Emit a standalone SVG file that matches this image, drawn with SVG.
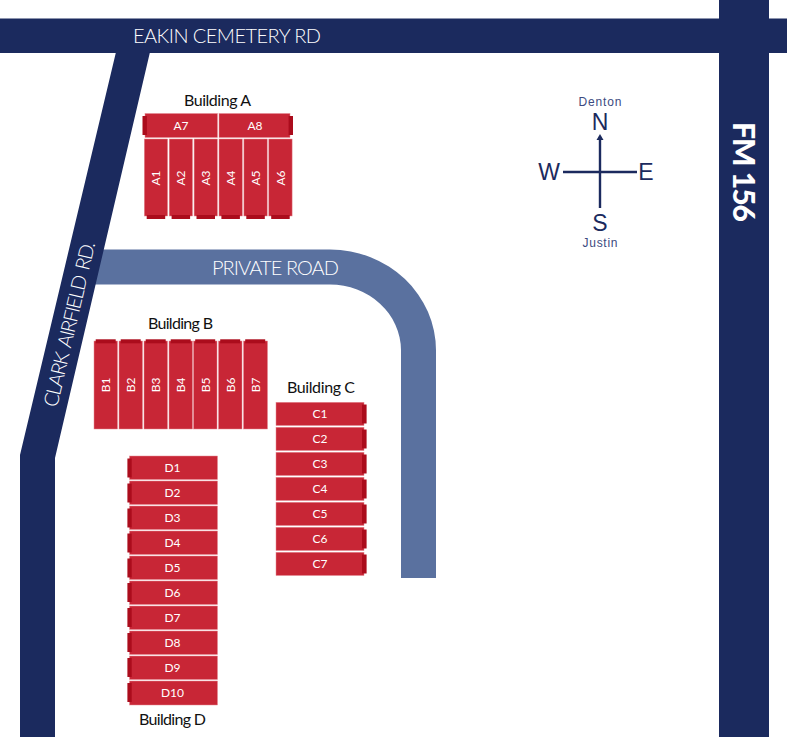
<svg xmlns="http://www.w3.org/2000/svg" width="787" height="737" viewBox="0 0 787 737">
<style>
.road{fill:#1b2a5e}
.priv{fill:#5a719f}
.u{fill:#c82636;stroke:#e58a93;stroke-width:.5}
.d{fill:#ab0c1c}
text{font-family:"Lato","Liberation Sans",sans-serif}
.rl{fill:#fff;font-size:20px;font-weight:300}
.bl{fill:#111;font-size:16px;text-anchor:middle}
.ul{fill:#fff;font-size:12px;text-anchor:middle}
.cp{fill:#1b2a5e;font-size:23px;text-anchor:middle;font-family:"Liberation Sans",sans-serif}
.ct{fill:#3c4a80;font-size:12px;text-anchor:middle;font-family:"Liberation Sans",sans-serif}
.cl{stroke:#1b2a5e;stroke-width:2.4;fill:none}
</style>
<g id="roads">
<path id="private-road" class="priv" d="M80 249.5H330A106 101 0 0 1 436 350.5V578H401V350A71 66 0 0 0 330 284.5H80Z"/>
<rect id="eakin-road" class="road" x="0" y="18.5" width="787" height="34.5"/>
<rect id="fm156" class="road" x="719" y="0" width="50" height="737"/>
<path id="clark-road" class="road" d="M116 52H150L55 458V737H20V455Z"/>
<text class="rl" x="133" y="43" textLength="188">EAKIN CEMETERY RD</text>
<text class="rl" x="212" y="275" textLength="127">PRIVATE ROAD</text>
<text class="rl" transform="translate(57 408) rotate(-76.9)" textLength="169" word-spacing="3">CLARK AIRFIELD RD.</text>
<text transform="translate(733 122) rotate(90)" fill="#fff" font-size="30" font-weight="900" textLength="100">FM 156</text>
</g>
<g id="building-a">
<text class="bl" x="217.5" y="106" textLength="67">Building A</text>
<g id="A7"><rect class="u" x="145" y="113.5" width="72.5" height="24"/><rect class="d" x="142.5" y="116" width="4.4" height="19"/><text class="ul" x="181" y="130">A7</text></g>
<g id="A8"><rect class="u" x="219" y="113.5" width="71" height="24"/><rect class="d" x="288.6" y="116" width="4.4" height="19"/><text class="ul" x="255" y="130">A8</text></g>
<g id="A1"><rect class="u" x="144.3" y="139" width="23.3" height="77"/><rect class="d" x="146.7" y="215" width="18.5" height="4"/><text class="ul" transform="translate(160 178) rotate(-90)">A1</text></g>
<g id="A2"><rect class="u" x="169.2" y="139" width="23.3" height="77"/><rect class="d" x="171.6" y="215" width="18.5" height="4"/><text class="ul" transform="translate(185 178) rotate(-90)">A2</text></g>
<g id="A3"><rect class="u" x="194.1" y="139" width="23.3" height="77"/><rect class="d" x="196.5" y="215" width="18.5" height="4"/><text class="ul" transform="translate(210 178) rotate(-90)">A3</text></g>
<g id="A4"><rect class="u" x="219" y="139" width="23.3" height="77"/><rect class="d" x="221.4" y="215" width="18.5" height="4"/><text class="ul" transform="translate(235 178) rotate(-90)">A4</text></g>
<g id="A5"><rect class="u" x="243.9" y="139" width="23.3" height="77"/><rect class="d" x="246.3" y="215" width="18.5" height="4"/><text class="ul" transform="translate(260 178) rotate(-90)">A5</text></g>
<g id="A6"><rect class="u" x="268.8" y="139" width="23.3" height="77"/><rect class="d" x="271.2" y="215" width="18.5" height="4"/><text class="ul" transform="translate(285 178) rotate(-90)">A6</text></g>
</g>
<g id="building-b">
<text class="bl" x="180.5" y="329" textLength="65">Building B</text>
<g id="B1"><rect class="u" x="94" y="341" width="23.5" height="88"/><rect class="d" x="95.7" y="339.3" width="20" height="4"/><text class="ul" transform="translate(110 385) rotate(-90)">B1</text></g>
<g id="B2"><rect class="u" x="119" y="341" width="23.5" height="88"/><rect class="d" x="120.7" y="339.3" width="20" height="4"/><text class="ul" transform="translate(135 385) rotate(-90)">B2</text></g>
<g id="B3"><rect class="u" x="144" y="341" width="23.5" height="88"/><rect class="d" x="145.7" y="339.3" width="20" height="4"/><text class="ul" transform="translate(160 385) rotate(-90)">B3</text></g>
<g id="B4"><rect class="u" x="169" y="341" width="23.5" height="88"/><rect class="d" x="170.7" y="339.3" width="20" height="4"/><text class="ul" transform="translate(185 385) rotate(-90)">B4</text></g>
<g id="B5"><rect class="u" x="193.5" y="341" width="23.5" height="88"/><rect class="d" x="195.2" y="339.3" width="20" height="4"/><text class="ul" transform="translate(210 385) rotate(-90)">B5</text></g>
<g id="B6"><rect class="u" x="218.5" y="341" width="23.5" height="88"/><rect class="d" x="220.2" y="339.3" width="20" height="4"/><text class="ul" transform="translate(235 385) rotate(-90)">B6</text></g>
<g id="B7"><rect class="u" x="243.5" y="341" width="24" height="88"/><rect class="d" x="245.2" y="339.3" width="20" height="4"/><text class="ul" transform="translate(260 385) rotate(-90)">B7</text></g>
</g>
<g id="building-c">
<text class="bl" x="321" y="393" textLength="68">Building C</text>
<g id="C1"><rect class="u" x="276" y="402.3" width="88" height="23.2"/><rect class="d" x="362" y="404.5" width="4.6" height="19"/><text class="ul" x="320" y="418">C1</text></g>
<g id="C2"><rect class="u" x="276" y="427.3" width="88" height="23.2"/><rect class="d" x="362" y="429.5" width="4.6" height="19"/><text class="ul" x="320" y="443">C2</text></g>
<g id="C3"><rect class="u" x="276" y="452.3" width="88" height="23.2"/><rect class="d" x="362" y="454.5" width="4.6" height="19"/><text class="ul" x="320" y="468">C3</text></g>
<g id="C4"><rect class="u" x="276" y="477.3" width="88" height="23.2"/><rect class="d" x="362" y="479.5" width="4.6" height="19"/><text class="ul" x="320" y="493">C4</text></g>
<g id="C5"><rect class="u" x="276" y="502.3" width="88" height="23.2"/><rect class="d" x="362" y="504.5" width="4.6" height="19"/><text class="ul" x="320" y="518">C5</text></g>
<g id="C6"><rect class="u" x="276" y="527.3" width="88" height="23.2"/><rect class="d" x="362" y="529.5" width="4.6" height="19"/><text class="ul" x="320" y="543">C6</text></g>
<g id="C7"><rect class="u" x="276" y="552.3" width="88" height="23.2"/><rect class="d" x="362" y="554.5" width="4.6" height="19"/><text class="ul" x="320" y="568">C7</text></g>
</g>
<g id="building-d">
<text class="bl" x="172.5" y="725" textLength="67">Building D</text>
<g id="D1"><rect class="u" x="129.5" y="456" width="88" height="23.5"/><rect class="d" x="127.4" y="458.5" width="4.3" height="19"/><text class="ul" x="172.5" y="472">D1</text></g>
<g id="D2"><rect class="u" x="129.5" y="481" width="88" height="23.5"/><rect class="d" x="127.4" y="483.5" width="4.3" height="19"/><text class="ul" x="172.5" y="497">D2</text></g>
<g id="D3"><rect class="u" x="129.5" y="506" width="88" height="23.5"/><rect class="d" x="127.4" y="508.5" width="4.3" height="19"/><text class="ul" x="172.5" y="522">D3</text></g>
<g id="D4"><rect class="u" x="129.5" y="531" width="88" height="23.5"/><rect class="d" x="127.4" y="533.5" width="4.3" height="19"/><text class="ul" x="172.5" y="547">D4</text></g>
<g id="D5"><rect class="u" x="129.5" y="556" width="88" height="23.5"/><rect class="d" x="127.4" y="558.5" width="4.3" height="19"/><text class="ul" x="172.5" y="572">D5</text></g>
<g id="D6"><rect class="u" x="129.5" y="581" width="88" height="23.5"/><rect class="d" x="127.4" y="583" width="4.3" height="19"/><text class="ul" x="172.5" y="597">D6</text></g>
<g id="D7"><rect class="u" x="129.5" y="606" width="88" height="23.5"/><rect class="d" x="127.4" y="608" width="4.3" height="19"/><text class="ul" x="172.5" y="622">D7</text></g>
<g id="D8"><rect class="u" x="129.5" y="631" width="88" height="23.5"/><rect class="d" x="127.4" y="633" width="4.3" height="19"/><text class="ul" x="172.5" y="647">D8</text></g>
<g id="D9"><rect class="u" x="129.5" y="656" width="88" height="23.5"/><rect class="d" x="127.4" y="658" width="4.3" height="19"/><text class="ul" x="172.5" y="672">D9</text></g>
<g id="D10"><rect class="u" x="129.5" y="681" width="88" height="24"/><rect class="d" x="127.4" y="683" width="4.3" height="19"/><text class="ul" x="172.5" y="697">D10</text></g>
</g>
<g id="compass">
<path class="cl" d="M563 172H637M600 208V137"/>
<path d="M596.5 140L600 134L603.5 140Z" fill="#1b2a5e"/>
<text class="cp" x="600" y="130">N</text>
<text class="cp" x="549" y="180">W</text>
<text class="cp" x="646" y="180">E</text>
<text class="cp" x="600" y="231">S</text>
<text class="ct" x="600" y="106" textLength="43">Denton</text>
<text class="ct" x="600" y="247" textLength="35">Justin</text>
</g>
</svg>
